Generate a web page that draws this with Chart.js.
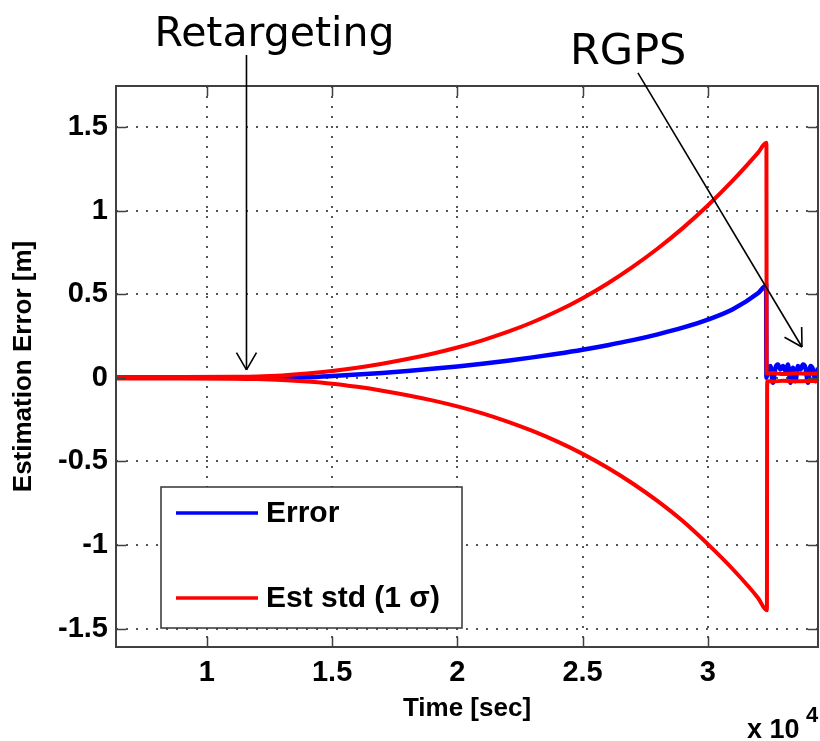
<!DOCTYPE html>
<html><head><meta charset="utf-8">
<script src="https://cdn.jsdelivr.net/npm/chart.js@4.4.0/dist/chart.umd.min.js"></script>
<style>html,body{margin:0;padding:0;background:#fff;}canvas{display:block;}</style>
</head><body>
<canvas id="c" width="820" height="741"></canvas>
<script>
// ---------- data ----------
const errTime  = [6370, 10000, 12500, 13000, 14000, 15000, 16000, 17000, 18000, 19000, 20000, 21000, 22000, 23000, 24000, 25000, 26000, 27000, 28000, 29000, 30000, 31000, 32000, 32330, 32335, 32340,
                  32400, 32500, 32600, 32700, 32800, 32900, 33000, 33100, 33200, 33300, 33400, 33500, 33600, 33700, 33800, 33900, 34000, 34100, 34200, 34300, 34400];
const errValue = [0, 0, 0.0, 0.001, 0.003, 0.01, 0.019, 0.029, 0.041, 0.054, 0.068, 0.084, 0.102, 0.122, 0.144, 0.168, 0.195, 0.225, 0.26, 0.30, 0.348, 0.41, 0.505, 0.55, 0.27, 0.0,
                  0.04, 0.07, -0.03, 0.06, 0.08, 0.05, 0.07, 0.04, 0.08, -0.03, 0.06, -0.02, 0.07, 0.05, 0.08, 0.06, -0.03, 0.07, 0.05, -0.02, 0.06];

const stdUpperTime = [6370, 9000, 11000, 12000, 13000, 14000, 15000, 16000, 17000, 18000, 19000, 20000, 21000, 22000, 23000, 24000, 25000, 26000, 27000, 28000, 29000, 30000, 31000, 32000, 32340, 32350, 32600, 33000, 33500, 34000, 34400];
const stdUpper     = [0.005, 0.005, 0.006, 0.008, 0.014, 0.025, 0.04, 0.06, 0.084, 0.112, 0.144, 0.181, 0.224, 0.274, 0.332, 0.399, 0.476, 0.564, 0.663, 0.773, 0.895, 1.03, 1.18, 1.345, 1.405, 0.025, 0.028, 0.022, 0.027, 0.024, 0.026];

const stdLowerTime = [6370, 9000, 11000, 12000, 13000, 14000, 15000, 16000, 17000, 18000, 19000, 20000, 21000, 22000, 23000, 24000, 25000, 26000, 27000, 28000, 29000, 30000, 31000, 32000, 32360, 32370, 32600, 33000, 33500, 34000, 34400];
const stdLower     = [-0.005, -0.005, -0.006, -0.008, -0.013, -0.022, -0.035, -0.054, -0.077, -0.104, -0.135, -0.171, -0.213, -0.262, -0.318, -0.382, -0.455, -0.538, -0.632, -0.738, -0.857, -0.995, -1.145, -1.315, -1.39, -0.02, -0.022, -0.018, -0.021, -0.019, -0.02];

const seriesLabels = ['Error', 'Est std (1 σ)'];
const xTickValues = [10000, 15000, 20000, 25000, 30000];
const xTickLabels = ['1', '1.5', '2', '2.5', '3'];
const yTickValues = [-1.5, -1, -0.5, 0, 0.5, 1, 1.5];
const yTickLabels = ['-1.5', '-1', '-0.5', '0', '0.5', '1', '1.5'];
const xLimits = [6370, 34400];
const yLimits = [-1.61, 1.745];
const xAxisTitle = 'Time [sec]';
const yAxisTitle = 'Estimation Error [m]';
const exponentBase = 'x 10';
const exponentPower = '4';
const annotations = [
  {text: 'Retargeting', from: [11580, 1.93], to: [11580, 0.047], dx: -92, dy: -9, size: 41},
  {text: 'RGPS', from: [27210, 1.823], to: [33760, 0.184], dx: -68, dy: -9, size: 43}
];

// ---------- styles ----------
const RED = '#ff0000', BLUE = '#0000ff';
const SANS = '"Liberation Sans", Arial, Helvetica, sans-serif';
const pts = (xs, ys) => xs.map((t, i) => ({x: t, y: ys[i]}));

const decor = {
  id: 'decor',
  afterDraw(chart) {
    const {ctx, chartArea: a, scales: {x, y}} = chart;
    ctx.save();
    // frame
    ctx.strokeStyle = '#404040';
    ctx.lineWidth = 2;
    ctx.strokeRect(a.left, a.top, a.right - a.left, a.bottom - a.top);
    // inward tick marks on all four sides
    ctx.lineWidth = 1.5;
    ctx.beginPath();
    xTickValues.forEach(v => {
      const px = Math.round(x.getPixelForValue(v)) + 0.5;
      ctx.moveTo(px, a.bottom); ctx.lineTo(px, a.bottom - 10);
      ctx.moveTo(px, a.top); ctx.lineTo(px, a.top + 10);
    });
    yTickValues.forEach(v => {
      const py = Math.round(y.getPixelForValue(v)) + 0.5;
      ctx.moveTo(a.left, py); ctx.lineTo(a.left + 10, py);
      ctx.moveTo(a.right, py); ctx.lineTo(a.right - 10, py);
    });
    ctx.stroke();

    // legend
    const lx = a.left + 45, ly = 487, lw = 301, lh = a.bottom - 19 - 487;
    ctx.fillStyle = '#fff';
    ctx.fillRect(lx, ly, lw, lh);
    ctx.strokeStyle = '#333';
    ctx.lineWidth = 1.5;
    ctx.strokeRect(lx, ly, lw, lh);
    const entries = [
      {label: chart.data.datasets[2].label, color: chart.data.datasets[2].borderColor, yy: ly + 26},
      {label: chart.data.datasets[0].label, color: chart.data.datasets[0].borderColor, yy: ly + 111}
    ];
    ctx.font = 'bold 30px ' + SANS;
    ctx.textBaseline = 'middle';
    ctx.textAlign = 'left';
    entries.forEach(e => {
      ctx.strokeStyle = e.color; ctx.lineWidth = 3.5;
      ctx.beginPath(); ctx.moveTo(lx + 15, e.yy); ctx.lineTo(lx + 97, e.yy); ctx.stroke();
      ctx.fillStyle = '#000';
      ctx.fillText(e.label, lx + 105, e.yy + 1);
    });

    // annotations with arrows
    ctx.strokeStyle = '#000';
    ctx.fillStyle = '#000';
    ctx.lineWidth = 1.6;
    annotations.forEach(an => {
      const x0 = x.getPixelForValue(an.from[0]), y0 = y.getPixelForValue(an.from[1]);
      const x1 = x.getPixelForValue(an.to[0]), y1 = y.getPixelForValue(an.to[1]);
      ctx.beginPath(); ctx.moveTo(x0, y0); ctx.lineTo(x1, y1); ctx.stroke();
      const ang = Math.atan2(y0 - y1, x0 - x1);
      ctx.beginPath();
      [Math.PI / 6, -Math.PI / 6].forEach(d => {
        ctx.moveTo(x1, y1);
        ctx.lineTo(x1 + 20 * Math.cos(ang + d), y1 + 20 * Math.sin(ang + d));
      });
      ctx.stroke();
      ctx.font = an.size + 'px "DejaVu Sans", Verdana, sans-serif';
      ctx.textBaseline = 'alphabetic';
      ctx.textAlign = 'left';
      ctx.fillText(an.text, x0 + an.dx, y0 + an.dy);
    });

    // exponent label
    ctx.font = 'bold 27px ' + SANS;
    ctx.textAlign = 'left';
    ctx.textBaseline = 'alphabetic';
    ctx.fillText(exponentBase, a.right - 71, 738);
    ctx.font = 'bold 22px ' + SANS;
    ctx.fillText(exponentPower, a.right - 12, 722);
    ctx.restore();
  }
};

new Chart(document.getElementById('c'), {
  type: 'line',
  data: {
    datasets: [
      {label: seriesLabels[1], data: pts(stdUpperTime, stdUpper), borderColor: RED, borderWidth: 4, pointRadius: 0, order: 0, cubicInterpolationMode: 'monotone'},
      {label: '', data: pts(stdLowerTime, stdLower), borderColor: RED, borderWidth: 4, pointRadius: 0, order: 0, cubicInterpolationMode: 'monotone'},
      {label: seriesLabels[0], data: pts(errTime, errValue), borderColor: BLUE, borderWidth: 4.5, pointRadius: 0, order: 1, cubicInterpolationMode: 'monotone'}
    ]
  },
  options: {
    responsive: false,
    animation: false,
    devicePixelRatio: 1,
    layout: {padding: {top: 86, left: 0, right: 2, bottom: 0}},
    plugins: {legend: {display: false}, tooltip: {enabled: false}, title: {display: false}},
    scales: {
      x: {
        type: 'linear', min: xLimits[0], max: xLimits[1],
        afterBuildTicks: s => { s.ticks = xTickValues.map(v => ({value: v})); },
        afterFit: s => { s.height = 94; },
        ticks: {
          callback: (v, i) => xTickLabels[i],
          font: {family: SANS, size: 29, weight: 'bold'}, color: '#000', padding: 9, maxRotation: 0, autoSkip: false
        },
        grid: {color: '#555', lineWidth: 2, drawTicks: false},
        border: {display: false, dash: [2, 8]},
        title: {display: true, text: xAxisTitle, font: {family: SANS, size: 26, weight: 'bold'}, color: '#000', padding: {top: 0, bottom: 17}}
      },
      y: {
        type: 'linear', min: yLimits[0], max: yLimits[1],
        afterBuildTicks: s => { s.ticks = yTickValues.map(v => ({value: v})); },
        afterFit: s => { s.width = 116; },
        ticks: {
          callback: (v, i) => yTickLabels[i],
          font: {family: SANS, size: 29, weight: 'bold'}, color: '#000', padding: 8, autoSkip: false
        },
        grid: {color: '#555', lineWidth: 2, drawTicks: false},
        border: {display: false, dash: [2, 8]},
        title: {display: true, text: yAxisTitle, font: {family: SANS, size: 26, weight: 'bold'}, color: '#000', padding: {top: 8, bottom: 0}}
      }
    }
  },
  plugins: [decor]
});
</script>
</body></html>
